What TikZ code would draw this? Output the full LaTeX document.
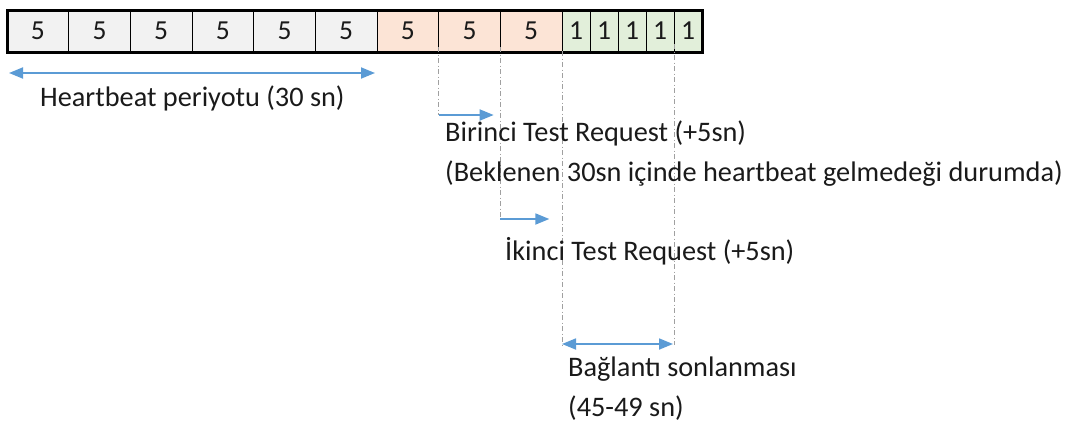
\documentclass[tikz,border=0pt]{standalone}
\usepackage{fontspec}
\setmainfont{Carlito}
\usetikzlibrary{arrows.meta,calc}
\definecolor{cgray}{HTML}{F2F2F2}
\definecolor{corange}{HTML}{FCE4D6}
\definecolor{cgreen}{HTML}{E2EFDA}
\definecolor{cblue}{HTML}{5B9BD5}
\definecolor{cdash}{HTML}{A0A0A0}
\definecolor{ctext}{HTML}{1A1A1A}
\tikzset{
  cell/.style={draw=black, line width=1pt, minimum height=42pt, inner sep=0pt, outer sep=0pt,
    text=ctext, font={\fontsize{27.5}{30}\selectfont}},
  graycell/.style={cell, fill=cgray, minimum width=61.667pt},
  orangecell/.style={cell, fill=corange, minimum width=61.667pt},
  greencell/.style={cell, fill=cgreen, minimum width=28pt},
  label/.style={anchor=base west, inner sep=0pt, text=ctext, align=left,
    font={\fontsize{28.3}{39.5}\selectfont}},
  guide/.style={draw=cdash, line width=1pt, dash pattern=on 5pt off 2.5pt on 1pt off 2.5pt},
  barrow/.style={draw=cblue, line width=1.8pt, -{Triangle[length=14pt,width=11pt]}},
  bbarrow/.style={draw=cblue, line width=1.8pt, {Triangle[length=14pt,width=11pt]}-{Triangle[length=14pt,width=11pt]}}
}
\begin{document}
\begin{tikzpicture}[x=1pt,y=-1pt]
\useasboundingbox (0,0) rectangle (1067,421);
% cells
\foreach \i in {1,...,6} {
  \node[graycell, anchor=north west] (c\i) at ({7+61.667*(\i-1)},10) {5};
}
\foreach \i in {7,8,9} {
  \node[orangecell, anchor=north west] (c\i) at ({377+61.667*(\i-7)},10) {5};
}
\foreach \i in {10,...,14} {
  \node[greencell, anchor=north west] (c\i) at ({562+28*(\i-10)},10) {1};
}
\draw[line width=3pt] (c1.north west) rectangle (c14.south east);
% guide coordinates
\coordinate (g1top) at ([yshift=5pt]c7.south east);
\coordinate (g2top) at ([yshift=5pt]c8.south east);
\coordinate (g3top) at ([yshift=1pt]c9.south east);
\coordinate (g4top) at ([yshift=8pt]c13.south east);
\coordinate (g1bot) at ($(c7.south east)+(0,63)$);
\coordinate (g2bot) at ($(c8.south east)+(0,167)$);
\coordinate (g3bot) at ($(c9.south east)+(0,295)$);
\coordinate (g4bot) at ($(c13.south east)+(0,293)$);
\draw[guide] (g1top) -- (g1bot);
\draw[guide] (g2top) -- (g2bot);
\draw[guide] (g3top) -- (g3bot);
\draw[guide] (g4top) -- (g4bot);
% arrows
\coordinate (hbL) at (9,73);
\coordinate (hbR) at (375,73);
\draw[bbarrow] (hbL) -- (hbR);
\coordinate (a1e) at ($(g1bot)+(55,0)$);
\draw[barrow] (g1bot) -- (a1e);
\coordinate (a2e) at ($(g2bot)+(49,0)$);
\draw[barrow] (g2bot) -- (a2e);
\coordinate (dL) at ($(g3bot)+(0,-3)$);
\coordinate (dR) at ($(g4bot)+(-1,-1)$);
\draw[bbarrow] (dL) -- (dR);
% labels
\node[label] (hb) at (40,106) {Heartbeat periyotu (30 sn)};
\node[label] (t1) at (445,181) {Birinci Test Request (+5sn)\\(Beklenen 30sn içinde heartbeat gelmedeği durumda)};
\node[label] (t2) at (505,260) {İkinci Test Request (+5sn)};
\node[label] (t3) at (568,416) {Bağlantı sonlanması\\(45-49 sn)};
\end{tikzpicture}
\end{document}
